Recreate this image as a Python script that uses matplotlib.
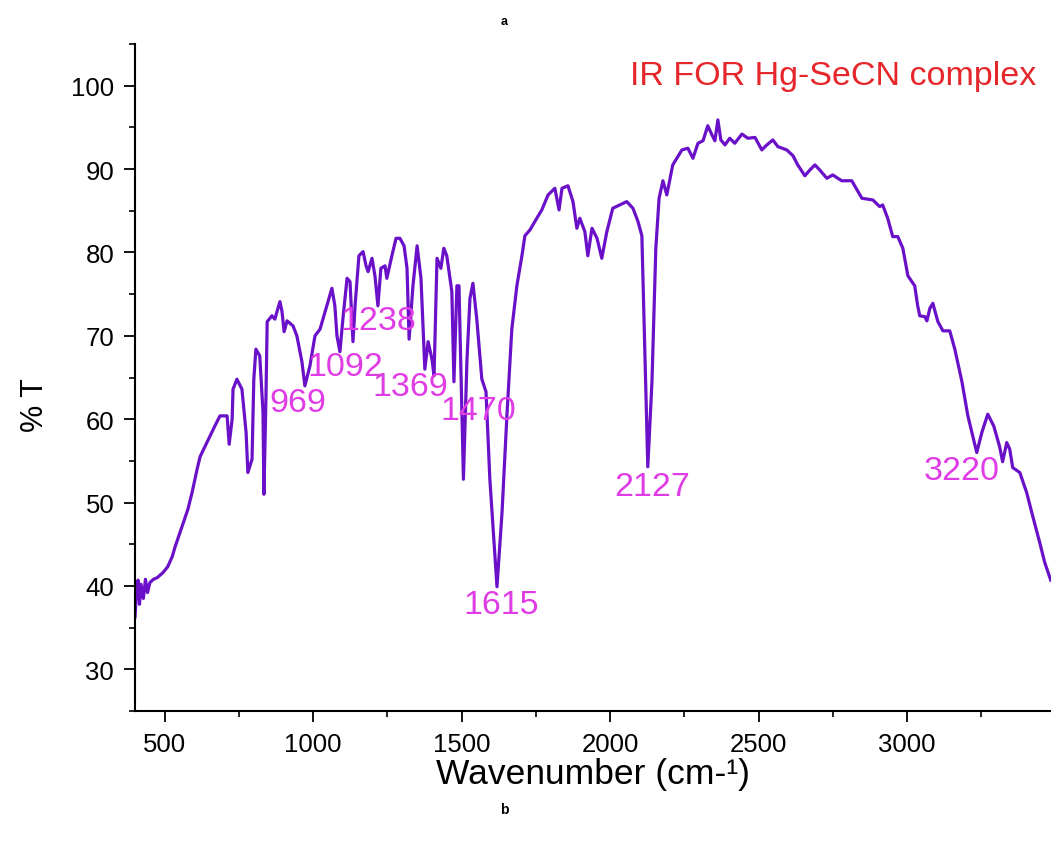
# IR spectrum of Hg-SeCN complex

import matplotlib
matplotlib.use('Agg')
import matplotlib.pyplot as plt
from matplotlib.ticker import MultipleLocator

plt.rcParams['font.family'] = ['Liberation Sans', 'DejaVu Sans']

# spectrum (wavenumber cm-1, %T)
wavenumber = [400, 405, 410, 415, 420, 428, 435, 442, 450, 462, 475, 494, 510, 525, 535,
              558, 578, 592, 609, 619, 642, 669, 686, 710, 717, 727, 730, 743, 760, 774,
              780, 794, 800, 807, 820, 831, 834, 841, 845, 861, 871, 878, 888, 895, 902,
              912, 932, 945, 962, 972, 989, 1006, 1023, 1040, 1063, 1073, 1080, 1090, 1100,
              1114, 1124, 1134, 1141, 1154, 1168, 1178, 1185, 1198, 1208, 1218, 1228, 1242,
              1248, 1265, 1279, 1292, 1306, 1316, 1323, 1336, 1350, 1363, 1376, 1387, 1400,
              1407, 1417, 1430, 1440, 1450, 1467, 1474, 1484, 1491, 1506, 1518, 1528, 1538,
              1551, 1568, 1582, 1595, 1619, 1636, 1653, 1669, 1686, 1703, 1713, 1730, 1753,
              1770, 1791, 1814, 1828, 1838, 1858, 1875, 1888, 1898, 1915, 1925, 1939, 1956,
              1972, 1989, 2009, 2056, 2077, 2094, 2107, 2117, 2127, 2141, 2154, 2165, 2178,
              2191, 2211, 2242, 2262, 2279, 2296, 2313, 2329, 2343, 2353, 2363, 2373, 2387,
              2403, 2420, 2444, 2464, 2488, 2511, 2528, 2548, 2565, 2595, 2616, 2632, 2656,
              2673, 2690, 2706, 2730, 2750, 2780, 2814, 2848, 2885, 2908, 2918, 2935, 2952,
              2969, 2986, 3003, 3026, 3036, 3043, 3060, 3067, 3077, 3087, 3104, 3121, 3144,
              3161, 3185, 3205, 3235, 3252, 3272, 3292, 3312, 3322, 3336, 3346, 3356, 3380,
              3403, 3424, 3447, 3464, 3484]
transmittance = [36.3, 39.5, 40.7, 37.8, 40.2, 38.5, 40.8, 39.2, 40.4, 40.8, 41.0, 41.6, 42.3, 43.5, 44.7,
                 47.1, 49.2, 51.2, 54.0, 55.5, 57.2, 59.2, 60.4, 60.4, 57.0, 60.0, 63.6, 64.8, 63.6, 58.4,
                 53.6, 55.2, 64.8, 68.4, 67.6, 60.8, 51.0, 62.8, 71.7, 72.4, 72.0, 72.9, 74.1, 72.9, 70.5,
                 71.8, 71.2, 70.0, 66.9, 64.0, 66.4, 70.0, 70.8, 72.9, 75.7, 73.6, 70.0, 68.1, 72.0,
                 76.9, 76.5, 69.3, 73.6, 79.6, 80.1, 78.4, 77.7, 79.3, 77.2, 73.6, 78.1, 78.4,
                 76.9, 79.6, 81.7, 81.7, 80.8, 78.1, 69.6, 76.0, 80.8, 76.9, 66.0, 69.3, 67.2,
                 65.2, 79.3, 78.1, 80.5, 79.6, 75.3, 64.5, 76.0, 76.0, 52.8, 67.2, 74.5, 76.3,
                 72.0, 64.8, 63.3, 52.8, 39.9, 48.8, 60.8, 70.8, 76.0, 79.6, 82.0, 82.7, 84.1,
                 85.1, 86.9, 87.7, 85.1, 87.7, 88.0, 86.1, 82.9, 84.1, 82.5, 79.6, 82.9, 81.7,
                 79.3, 82.5, 85.3, 86.1, 85.3, 83.7, 82.0, 68.4, 54.3, 64.5, 80.5, 86.5, 88.6,
                 86.9, 90.5, 92.3, 92.5, 91.3, 93.1, 93.4, 95.2, 94.1, 93.4, 95.9, 93.5, 92.9,
                 93.7, 93.1, 94.2, 93.7, 93.8, 92.3, 92.9, 93.5, 92.7, 92.3, 91.6, 90.5, 89.2,
                 89.9, 90.5, 89.9, 88.9, 89.3, 88.6, 88.6, 86.5, 86.3, 85.5, 85.7, 84.1, 81.9,
                 81.9, 80.5, 77.2, 76.0, 73.6, 72.4, 72.3, 71.8, 73.3, 73.9, 71.7, 70.6, 70.6,
                 68.4, 64.5, 60.4, 56.0, 58.4, 60.6, 59.2, 56.7, 54.9, 57.2, 56.4, 54.2, 53.6,
                 51.2, 48.3, 45.2, 42.8, 40.7]

# peak labels and where they sit
peak_labels = ['969', '1092', '1238', '1369', '1470', '1615', '2127', '3220']
label_x = [949, 1107, 1218, 1326, 1555, 1632, 2141, 3185]
label_y = [62.0, 66.3, 71.8, 63.9, 61.0, 37.8, 51.9, 53.9]

fig = plt.figure(figsize=(10.51, 8.45), dpi=100)
ax = fig.add_axes([0.1285, 0.1574, 0.8715, 0.7893])

ax.plot(wavenumber, transmittance, color='#6a10c8', linewidth=2.3)

for lab, x, y in zip(peak_labels, label_x, label_y):
    ax.text(x, y, lab, color='#e03ce6', fontsize=24.5, ha='center', va='center')

ax.text(2750, 101.2, 'IR FOR Hg-SeCN complex', color='#e5262a', fontsize=24.5,
        ha='center', va='center')

ax.set_xlim(400, 3485)
ax.set_ylim(25, 105)
ax.xaxis.set_major_locator(MultipleLocator(500))
ax.xaxis.set_minor_locator(MultipleLocator(250))
ax.yaxis.set_major_locator(MultipleLocator(10))
ax.yaxis.set_minor_locator(MultipleLocator(5))
ax.set_yticks([30, 40, 50, 60, 70, 80, 90, 100])

ax.spines['top'].set_visible(False)
ax.spines['right'].set_visible(False)
ax.spines['left'].set_linewidth(1.5)
ax.spines['bottom'].set_linewidth(1.5)
ax.tick_params(which='major', direction='out', length=8, width=1.3, labelsize=18.5, pad=7)
ax.tick_params(which='minor', direction='out', length=4, width=1.2)

ax.set_xlabel('Wavenumber (cm-¹)', fontsize=25.5, labelpad=1)
ax.set_ylabel('% T', fontsize=22)
ax.yaxis.set_label_coords(-0.093, 0.46)

fig.text(0.48, 0.974, 'a', fontsize=9, fontweight='bold', ha='center', va='center')
fig.text(0.48, 0.042, 'b', fontsize=10, fontweight='bold', ha='center', va='center')

fig.savefig('out.png', dpi=100)
